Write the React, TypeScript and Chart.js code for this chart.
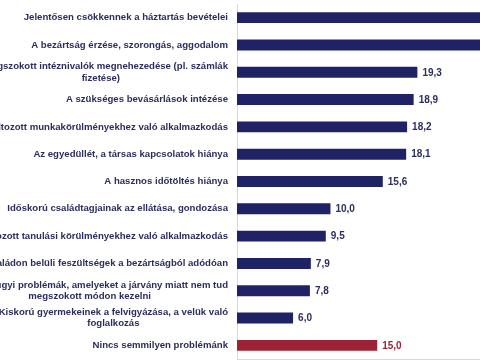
import React, { useEffect, useRef } from "react";
import { Chart, registerables } from "chart.js";

Chart.register(...registerables);

const categories: string[][] = [
  ["Jelentősen csökkennek a háztartás bevételei"],
  ["A bezártság érzése, szorongás, aggodalom"],
  ["A megszokott intéznivalók megnehezedése (pl. számlák", "fizetése)"],
  ["A szükséges bevásárlások intézése"],
  ["A megváltozott munkakörülményekhez való alkalmazkodás"],
  ["Az egyedüllét, a társas kapcsolatok hiánya"],
  ["A hasznos időtöltés hiánya"],
  ["Időskorú családtagjainak az ellátása, gondozása"],
  ["A megváltozott tanulási körülményekhez való alkalmazkodás"],
  ["Családon belüli feszültségek a bezártságból adódóan"],
  ["Egészségügyi problémák, amelyeket a járvány miatt nem tud", "megszokott módon kezelni"],
  ["Kiskorú gyermekeinek a felvigyázása, a velük való", "foglalkozás"],
  ["Nincs semmilyen problémánk"],
];

const values: number[] = [33.6, 29.4, 19.3, 18.9, 18.2, 18.1, 15.6, 10.0, 9.5, 7.9, 7.8, 6.0, 15.0];
const NAVY = "#1f2366";
const RED = "#9b2335";
const barColors: string[] = values.map((_, i) => (i === values.length - 1 ? RED : NAVY));
const valueLabelColors: string[] = values.map((_, i) => (i === values.length - 1 ? "#9b2335" : "#2b2d5e"));
const xMax = 26;

const LABEL_FONT = "bold 9.6px 'Liberation Sans', Arial, sans-serif";
const VALUE_FONT = "bold 10px 'Liberation Sans', Arial, sans-serif";

const labelPlugin = {
  id: "customLabels",
  afterDraw(chart: any) {
    const ctx = chart.ctx;
    const yScale = chart.scales.y;
    const area = chart.chartArea;
    const meta = chart.getDatasetMeta(0);
    ctx.save();
    ctx.textBaseline = "middle";
    ctx.font = LABEL_FONT;
    const lineH = 11.5;
    categories.forEach((lines, i) => {
      const yc = yScale.getPixelForValue(i);
      const widths = lines.map((l) => ctx.measureText(l).width);
      const maxW = Math.max(...widths);
      const right = area.left - 9;
      const cx = right - maxW / 2;
      ctx.fillStyle = "#2b2d5e";
      ctx.textAlign = "center";
      const startY = yc - ((lines.length - 1) * lineH) / 2;
      lines.forEach((l, j) => ctx.fillText(l, cx, startY + j * lineH));
    });
    ctx.font = VALUE_FONT;
    meta.data.forEach((bar: any, i: number) => {
      ctx.fillStyle = valueLabelColors[i];
      ctx.textAlign = "left";
      ctx.fillText(values[i].toFixed(1).replace(".", ","), bar.x + 5, bar.y + 0.5);
    });
    ctx.restore();
  },
};

export default function App() {
  const ref = useRef<HTMLCanvasElement>(null);
  useEffect(() => {
    if (!ref.current) return;
    const chart = new Chart(ref.current, {
      type: "bar",
      data: {
        labels: categories.map((c) => c.join(" ")),
        datasets: [
          {
            data: values,
            backgroundColor: barColors,
            barPercentage: 0.4,
            categoryPercentage: 1,
          },
        ],
      },
      options: {
        indexAxis: "y",
        animation: false,
        responsive: true,
        maintainAspectRatio: false,
        layout: { padding: { left: 237, top: 4, bottom: 1, right: 0 } },
        plugins: { legend: { display: false }, tooltip: { enabled: false } },
        scales: {
          x: {
            min: 0,
            max: xMax,
            ticks: { display: false },
            grid: { display: false, drawTicks: false },
            border: { display: true, color: "#d9d9d9", width: 1 },
          },
          y: {
            ticks: { display: false },
            grid: { display: false, drawTicks: false },
            border: { display: true, color: "#d9d9d9", width: 1 },
          },
        },
      },
      plugins: [labelPlugin],
    });
    return () => chart.destroy();
  }, []);
  return (
    <div style={{ position: "fixed", left: 0, top: 0, width: 480, height: 360, background: "#fff" }}>
      <canvas ref={ref} />
    </div>
  );
}
